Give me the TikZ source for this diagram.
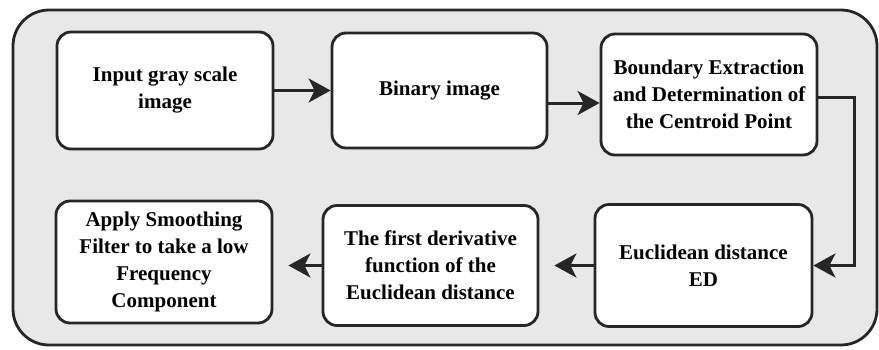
\documentclass[tikz,border=0pt]{standalone}
\usepackage{fontspec}
\setmainfont{Liberation Serif}
\usetikzlibrary{arrows.meta,positioning}

\begin{document}
\begin{tikzpicture}[x=1pt,y=-1pt]
	\tikzstyle{Frame}	= [draw=black!85, line width=2.8pt, fill=black!9, rounded corners=36pt]
	\tikzstyle{Step}	= [rectangle, draw=black!85, line width=2.8pt, fill=white, rounded corners=14pt, align=center, inner sep=2pt, font=\fontsize{21}{27}\selectfont\bfseries]
	\tikzstyle{Flow}	= [-{Stealth[length=22pt,width=24pt,inset=6pt]}, line width=3pt, black!85]

	\useasboundingbox (0,0) rectangle (879,349);
	\draw [Frame] (13,10) rectangle (877,345);

	\node (s1) at (165,90.5) [Step, minimum width=216pt, minimum height=117pt] {Input gray scale\\image};
	\node (s2) at (439.5,90.5) [Step, minimum width=215pt, minimum height=115pt] {Binary image};
	\node (s3) at (709,94.5) [Step, minimum width=216pt, minimum height=121pt] {Boundary Extraction\\and Determination of\\the Centroid Point};
	\node (s4) at (703.5,265.5) [Step, minimum width=217pt, minimum height=122pt] {Euclidean distance\\ED};
	\node (s5) at (430.5,265.5) [Step, minimum width=215pt, minimum height=120pt] {The first derivative\\function of the\\Euclidean distance};
	\node (s6) at (164,262) [Step, minimum width=216pt, minimum height=122pt] {Apply Smoothing\\Filter to take a low\\Frequency\\Component};

	\coordinate (c2) at ([yshift=-12.5pt]s2.east);
	\coordinate (c3) at ([yshift=-2.5pt]s3.east);

	\draw [Flow] (s1) -- (s2);
	\draw [Flow] (c2) -- (c2 -| s3.west);
	\draw [Flow] (c3) -- ++(36,0) |- (s4.east);
	\draw [Flow, shorten >=15pt] (s4) -- (s5);
	\draw [Flow, shorten >=15pt] (s5.west) -- (s5.west -| s6.east);
\end{tikzpicture}
\end{document}
